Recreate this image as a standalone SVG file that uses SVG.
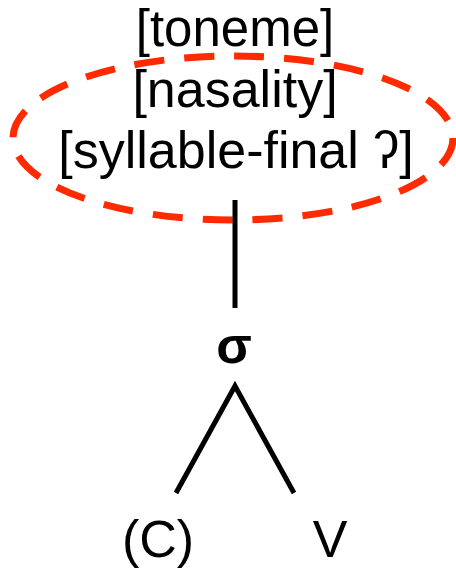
<svg xmlns="http://www.w3.org/2000/svg" width="456" height="568" viewBox="0 0 456 568">
<style>
.t{font-family:"Liberation Sans",Arial,sans-serif;font-size:52px;fill:#000;text-anchor:middle}
.b{font-weight:bold}
.edge{stroke:#000;stroke-width:5;fill:none;stroke-linecap:butt}
</style>
<rect width="456" height="568" fill="#fff"/>
<g id="features">
<text class="t" x="235" y="46" style="font-size:51px">[toneme]</text>
<text class="t" x="235" y="107">[nasality]</text>
<text class="t" x="236" y="168">[syllable-final ʔ]</text>
</g>
<g id="ellipse">
<ellipse cx="233" cy="138" rx="220" ry="82" fill="none" stroke="#ff2a00" stroke-width="7" stroke-dasharray="30 20"/>
</g>
<g id="sigma">
<text class="t b" x="234" y="363">σ</text>
</g>
<g id="onset">
<text class="t" x="158" y="557">(C)</text>
</g>
<g id="nucleus">
<text class="t" x="330" y="557">V</text>
</g>
<g id="connectors">
<line class="edge" x1="235" y1="200" x2="235" y2="308"/>
<polyline class="edge" points="176,493 235,386 294,493"/>
</g>
</svg>
